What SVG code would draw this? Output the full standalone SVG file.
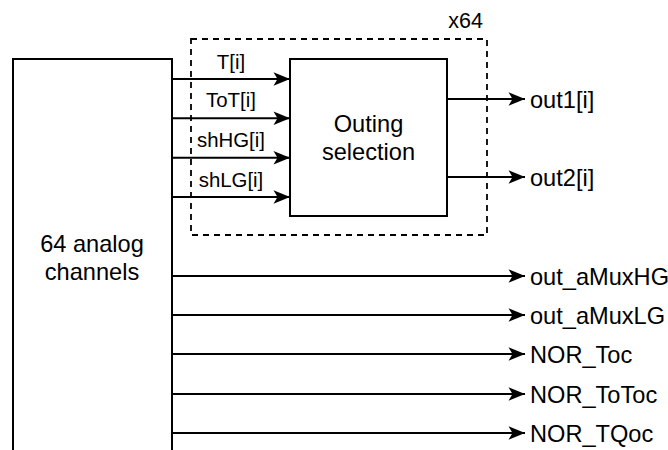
<svg xmlns="http://www.w3.org/2000/svg" width="668" height="450" viewBox="0 0 668 450">
<style>
.box{fill:#fff;stroke:#000;stroke-width:2}
.dash{fill:none;stroke:#000;stroke-width:1.8;stroke-dasharray:6 5}
.ln{fill:none;stroke:#000;stroke-width:2}
text{font-family:"Liberation Sans",Arial,sans-serif;fill:#000}
.s{font-size:20.4px}
.m{font-size:23.6px}
</style>
<defs>
<marker id="ah" markerUnits="userSpaceOnUse" markerWidth="20" markerHeight="16" refX="18" refY="8" orient="auto" viewBox="0 0 20 16">
<path d="M18,8 L1.5,1.3 L5.5,8 L1.5,14.7 Z" fill="#000"/>
</marker>
</defs>
<rect width="668" height="450" fill="#fff"/>
<g id="channels">
<path class="box" d="M13,452 L13,59 L172,59 L172,452"/>
<text class="m" x="92" y="251.5" text-anchor="middle">64 analog</text>
<text class="m" x="92" y="279.5" text-anchor="middle">channels</text>
</g>
<g id="group-x64">
<rect class="dash" x="191" y="39" width="296" height="196"/>
<text x="483" y="28" text-anchor="end" style="font-size:21.5px">x64</text>
</g>
<g id="outing">
<rect class="box" x="290" y="59" width="157" height="157"/>
<text class="m" x="368.5" y="132" text-anchor="middle">Outing</text>
<text class="m" x="368.5" y="160" text-anchor="middle">selection</text>
</g>
<g id="connectors">
<line class="ln" x1="172" y1="79" x2="290" y2="79" marker-end="url(#ah)"/>
<line class="ln" x1="172" y1="118.3" x2="290" y2="118.3" marker-end="url(#ah)"/>
<line class="ln" x1="172" y1="157.7" x2="290" y2="157.7" marker-end="url(#ah)"/>
<line class="ln" x1="172" y1="197" x2="290" y2="197" marker-end="url(#ah)"/>
<line class="ln" x1="447" y1="99" x2="525" y2="99" marker-end="url(#ah)"/>
<line class="ln" x1="447" y1="177" x2="525" y2="177" marker-end="url(#ah)"/>
<line class="ln" x1="172" y1="276" x2="525" y2="276" marker-end="url(#ah)"/>
<line class="ln" x1="172" y1="315" x2="525" y2="315" marker-end="url(#ah)"/>
<line class="ln" x1="172" y1="354" x2="525" y2="354" marker-end="url(#ah)"/>
<line class="ln" x1="172" y1="394" x2="525" y2="394" marker-end="url(#ah)"/>
<line class="ln" x1="172" y1="433" x2="525" y2="433" marker-end="url(#ah)"/>
<text class="s" x="231" y="69" text-anchor="middle">T[i]</text>
<text class="s" x="231" y="107" text-anchor="middle">ToT[i]</text>
<text class="s" x="231" y="147" text-anchor="middle">shHG[i]</text>
<text class="s" x="231" y="186.5" text-anchor="middle">shLG[i]</text>
<text class="m" x="530" y="107.5">out1[i]</text>
<text class="m" x="530" y="185.5">out2[i]</text>
<text class="m" x="530" y="284.5">out_aMuxHG</text>
<text class="m" x="530" y="323.5">out_aMuxLG</text>
<text class="m" x="530" y="362.5">NOR_Toc</text>
<text class="m" x="530" y="402.5">NOR_ToToc</text>
<text class="m" x="530" y="441.5">NOR_TQoc</text>
</g>
</svg>
